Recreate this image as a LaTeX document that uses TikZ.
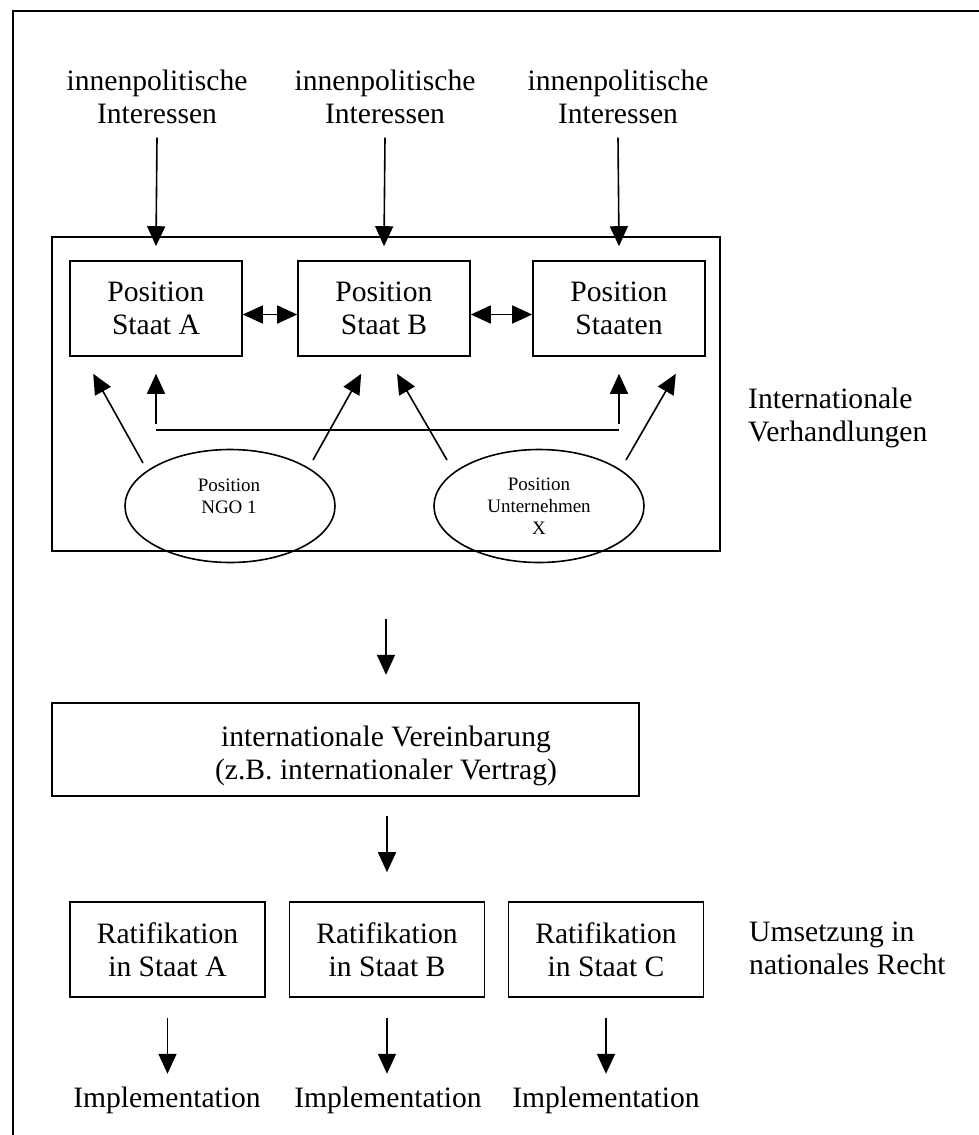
\documentclass[tikz,border=0pt]{standalone}
\usepackage{fontspec}
\setmainfont{Liberation Serif}
\usetikzlibrary{
  shapes.geometric,
  arrows.meta,
  positioning
}

\begin{document}
\begin{tikzpicture}[
    x=1pt, y=-1pt,
    font=\fontsize{29.6pt}{33pt}\selectfont,
    box/.style={
      rectangle, draw, line width=1.6pt,
      minimum width=172pt, minimum height=95pt,
      text centered, align=center, inner sep=0pt
    },
    akteur/.style={
      ellipse, draw, line width=1.6pt,
      minimum width=210pt, minimum height=113pt, inner sep=0pt
    },
    klein/.style={font=\fontsize{19pt}{22pt}\selectfont, align=center, inner sep=0pt},
    txt/.style={align=center, inner sep=0pt},
    arr/.style={-{Triangle[length=20pt,width=18pt]}, line width=1.6pt},
    darr/.style={{Triangle[length=20pt,width=18pt]}-{Triangle[length=20pt,width=18pt]}, line width=1.6pt},
    lin/.style={line width=1.6pt},
  ]
    \useasboundingbox (0,0) rectangle (979,1135);
    \draw[line width=2pt] (979,11) -- (12.5,11) -- (12.5,1135);

    % Verhandlungen
    \node[box, minimum width=668pt, minimum height=314pt] (verhandlung) at (386,394) {};
    \node[txt, align=left, anchor=west] (verhlabel) at (748,418) {Internationale\\Verhandlungen};

    \node[txt] (innenA) at (157,96.5) {innenpolitische\\Interessen};
    \node[txt] (innenB) at (385,96.5) {innenpolitische\\Interessen};
    \node[txt] (innenC) at (618,96.5) {innenpolitische\\Interessen};

    \node[box] (staatA) at (156,308.5) {Position\\Staat A};
    \node[box] (staatB) at (384,308.5) {Position\\Staat B};
    \node[box] (staatC) at (619,308.5) {Position\\Staaten};

    \node[akteur] (ngo)   at (230,506) {};
    \node[klein]  (ngotext) at (229,496) {Position\\NGO 1};
    \node[akteur, klein] (firma) at (539,506) {Position\\Unternehmen\\X};

    \draw[arr] ([yshift=-14pt]innenA.south) to ([yshift=14pt]staatA.north);
    \draw[arr] ([yshift=-14pt]innenB.south) to ([yshift=14pt]staatB.north);
    \draw[arr] ([yshift=-14pt]innenC.south) to ([yshift=14pt]staatC.north);

    \draw[darr] ([yshift=-6pt]staatA.east) to ([yshift=-6pt]staatB.west);
    \draw[darr] ([yshift=-6pt]staatB.east) to ([yshift=-6pt]staatC.west);

    % Einfluss der Akteure
    \draw[arr] ([xshift=-87pt,yshift=43pt]ngo.center) to ([xshift=24pt,yshift=-17pt]staatA.south west);
    \draw[arr] ([xshift=83pt,yshift=46pt]ngo.center) to ([xshift=64pt,yshift=-17pt]staatB.south west);
    \draw[arr] ([xshift=-92pt,yshift=46pt]firma.center) to ([xshift=13pt,yshift=-17pt]staatB.south);
    \draw[arr] ([xshift=87pt,yshift=46pt]firma.center) to ([xshift=-30pt,yshift=-17pt]staatC.south east);
    \draw[lin] ([yshift=-73pt]staatA.south) to ([yshift=-73pt]staatC.south);
    \draw[arr] ([yshift=-67pt]staatA.south) to ([yshift=-17pt]staatA.south);
    \draw[arr] ([yshift=-67pt]staatC.south) to ([yshift=-17pt]staatC.south);

    % Vereinbarung
    \node[box, minimum width=587pt, minimum height=93pt] (vertrag) at (345.5,749.5) {};
    \node[txt] (vertragtext) at (386,756) {internationale Vereinbarung\\(z.B. internationaler Vertrag)};
    \draw[arr] ([yshift=-67pt]verhandlung.south) -- ++(0,56);

    % Ratifikation
    \node[box, minimum width=195pt] (ratA) at (167.5,949.5) {Ratifikation\\in Staat A};
    \node[box, minimum width=195pt] (ratB) at (387,949.5) {Ratifikation\\in Staat B};
    \node[box, minimum width=195pt] (ratC) at (606,949.5) {Ratifikation\\in Staat C};
    \node[txt, align=left, anchor=west] (umsetzung) at (749,948.5) {Umsetzung in\\nationales Recht};
    \draw[arr] ([yshift=85pt]ratB.north) -- ++(0,56);

    \node[txt] (implA) at (167,1100) {Implementation};
    \node[txt] (implB) at (388,1100) {Implementation};
    \node[txt] (implC) at (606,1100) {Implementation};
    \draw[arr] ([yshift=-20pt]ratA.south) -- ++(0,56);
    \draw[arr] ([yshift=-20pt]ratB.south) -- ++(0,56);
    \draw[arr] ([yshift=-20pt]ratC.south) -- ++(0,56);
  \end{tikzpicture}
\end{document}
